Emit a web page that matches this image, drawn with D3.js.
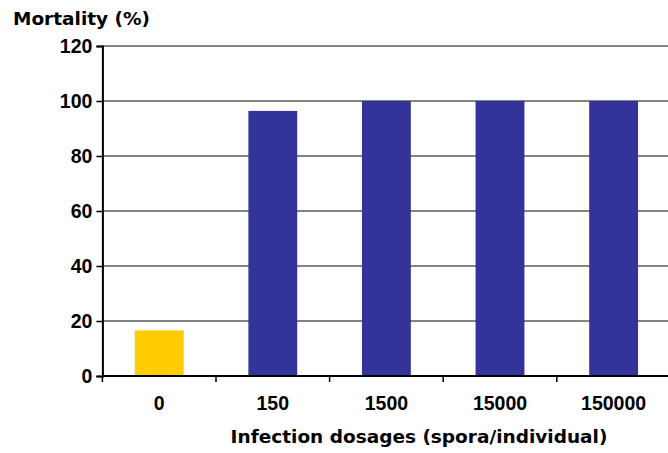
<!DOCTYPE html>
<html>
<head>
<meta charset="utf-8">
<script src="https://cdn.jsdelivr.net/npm/d3@7"></script>
<style>
  html, body { margin: 0; padding: 0; background: #fff; }
  svg text { font-family: "Liberation Sans", Arial, sans-serif; font-weight: bold; fill: #000; }
  svg text.title { font-family: "DejaVu Sans", sans-serif; }
</style>
</head>
<body>
<svg id="chart" width="668" height="453"></svg>
<script>
// Mortality by infection dosage
const dosages = ["0", "150", "1500", "15000", "150000"];
const mortality = [16.6, 96.4, 100, 100, 100];
const barColors = ["#FFCC00", "#333399", "#333399", "#333399", "#333399"];
const yTicks = [0, 20, 40, 60, 80, 100, 120];

const svg = d3.select("#chart");
const plotLeft = 102.4, plotRight = 670.4, plotTop = 46, plotBottom = 376;

const x = d3.scaleBand().domain(dosages).range([plotLeft, plotRight]).paddingInner(0.57).paddingOuter(0.285);
const y = d3.scaleLinear().domain([0, 120]).range([plotBottom, plotTop]);

// horizontal gridlines
svg.append("g").selectAll("line").data(yTicks.filter(d => d > 0)).join("line")
  .attr("x1", plotLeft).attr("x2", 668)
  .attr("y1", d => y(d)).attr("y2", d => y(d))
  .attr("stroke", "#5a5a5a").attr("stroke-width", 1.5);

// bars
svg.append("g").selectAll("rect").data(mortality).join("rect")
  .attr("x", (d, i) => x(dosages[i]))
  .attr("width", x.bandwidth())
  .attr("y", d => y(d))
  .attr("height", d => y(0) - y(d))
  .attr("fill", (d, i) => barColors[i]);

// y axis
const yAxis = svg.append("g").attr("transform", `translate(${plotLeft},0)`)
  .call(d3.axisLeft(y).tickValues(yTicks).tickSize(6).tickPadding(4));
yAxis.select(".domain").attr("stroke", "#000").attr("stroke-width", 2);
yAxis.selectAll(".tick line").attr("stroke", "#000").attr("stroke-width", 1.5);
yAxis.selectAll(".tick text").style("font-size", "19.5px");

// x axis with ticks between categories
const xAxisG = svg.append("g").attr("transform", `translate(0,${plotBottom})`);
xAxisG.append("line").attr("x1", plotLeft).attr("x2", 668).attr("y1", 0).attr("y2", 0)
  .attr("stroke", "#000").attr("stroke-width", 2);
const step = x.step();
xAxisG.selectAll("line.tk").data(dosages).join("line").attr("class", "tk")
  .attr("x1", d => x(d) - x.paddingInner() * step / 2)
  .attr("x2", d => x(d) - x.paddingInner() * step / 2)
  .attr("y1", 0).attr("y2", 6)
  .attr("stroke", "#000").attr("stroke-width", 1.5);
xAxisG.selectAll("text").data(dosages).join("text")
  .attr("x", d => x(d) + x.bandwidth() / 2)
  .attr("y", 34)
  .attr("text-anchor", "middle")
  .style("font-size", "19.5px")
  .text(d => d);

// axis titles
svg.append("text").attr("class", "title").attr("x", 13).attr("y", 25)
  .style("font-size", "18.5px").text("Mortality (%)");
svg.append("text").attr("class", "title").attr("x", 419).attr("y", 443).attr("text-anchor", "middle")
  .style("font-size", "18.5px").text("Infection dosages (spora/individual)");
</script>
</body>
</html>
